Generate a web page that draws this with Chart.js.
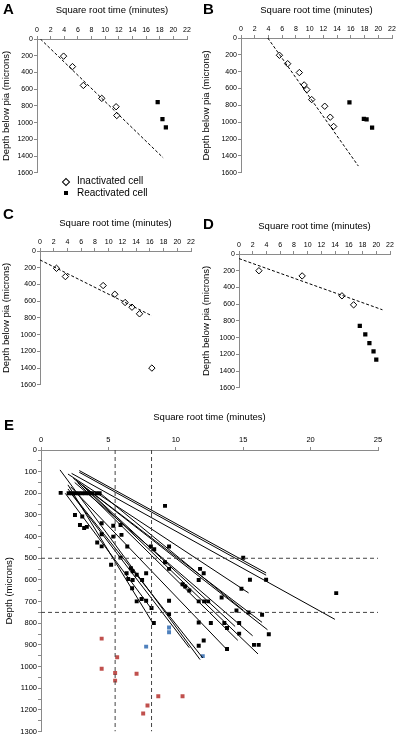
<!DOCTYPE html>
<html>
<head>
<meta charset="utf-8">
<script src="https://cdn.jsdelivr.net/npm/chart.js@4.4.0/dist/chart.umd.min.js"></script>
<style>
body{margin:0;background:#fff;width:400px;height:737px;position:relative;overflow:hidden;font-family:"Liberation Sans",Arial,sans-serif;}
canvas{position:absolute;}
.letter{position:absolute;font-weight:bold;font-size:15px;line-height:15px;}
.legtxt{position:absolute;left:77px;font-size:10px;line-height:12px;}
.dia{position:absolute;width:4px;height:4px;border:1px solid #000;background:#fff;transform:rotate(45deg);}
.sq{position:absolute;width:4px;height:4px;background:#000;}
</style>
</head>
<body>
<canvas id="chartA" style="left:0;top:0" width="200" height="178"></canvas>
<canvas id="chartB" style="left:200px;top:0" width="200" height="178"></canvas>
<canvas id="chartC" style="left:0;top:213px" width="200" height="177"></canvas>
<canvas id="chartD" style="left:200px;top:216px" width="200" height="177"></canvas>
<canvas id="chartE" style="left:0;top:405px" width="400" height="332"></canvas>

<div class="letter" style="left:3px;top:1px">A</div>
<div class="letter" style="left:203px;top:1px">B</div>
<div class="letter" style="left:3px;top:206px">C</div>
<div class="letter" style="left:203px;top:216px">D</div>
<div class="letter" style="left:4px;top:417px">E</div>

<div class="dia" style="left:63px;top:179px"></div>
<div class="legtxt" style="top:175px">Inactivated cell</div>
<div class="sq" style="left:64px;top:191px"></div>
<div class="legtxt" style="top:187px">Reactivated cell</div>

<script>
// panel A
let aInactive = [[3.9,205],[5.2,330],[6.8,555],[9.5,710],[11.6,810],[11.7,915]];
let aReactive = [[17.7,755],[18.4,958],[18.9,1058]];
let aFit = [[0.5,0],[18.5,1420]];
// panel B
let bInactive = [[5.6,205],[6.8,305],[8.5,410],[9.2,557],[9.6,613],[10.3,731],[12.2,810],[13.0,940],[13.5,1050]];
let bReactive = [[15.8,765],[17.9,960],[18.3,965],[19.1,1065]];
let bFit = [[3.9,0],[17.1,1520]];
// panel C
let cInactive = [[2.4,207],[3.7,306],[9.2,413],[10.9,517],[12.4,616],[13.4,672],[14.5,751],[16.3,1400]];
let cFit = [[0,107],[16.3,775]];
// panel D
let dInactive = [[2.9,200],[9.2,262],[15.0,500],[16.7,608]];
let dReactive = [[17.6,860],[18.4,962],[19.0,1065],[19.6,1164],[20.0,1263]];
let dFit = [[0,55],[20.9,667]];

// panel E
let eBlack = [
  [1.46,198],[2.05,200],[2.3,200],[2.55,200],[2.8,200],[3.05,200],[3.3,200],[3.55,200],[3.8,200],[4.1,200],[4.35,200],
  [2.52,300],[3.06,307],[2.89,346],[3.2,360],[3.4,355],[4.5,338],[4.5,389],[4.17,427],[4.5,445],
  [5.36,350],[5.36,400],[5.9,346],[5.97,392],[6.4,446],[9.2,258],[8.15,446],[8.4,458],[9.5,446],[5.9,497],
  [5.2,530],[6.35,569],[6.67,546],[6.8,560],[6.47,596],[6.8,600],[7.1,576],[7.8,569],[7.5,600],[6.76,638],
  [7.1,699],[7.46,688],[7.8,696],[8.2,730],[8.37,799],[9.2,518],[9.5,549],[9.5,696],[9.5,757],
  [10.5,620],[10.7,630],[11.0,649],[11.7,600],[11.7,699],[11.7,797],[11.7,904],
  [11.8,549],[12.07,569],[12.1,699],[12.4,699],[12.6,799],[12.07,880],[13.4,681],[13.8,919],[13.6,799],[13.8,822],
  [14.7,799],[14.7,848],[14.5,741],[14.87,641],[15.4,750],[15.0,498],[15.5,599],[16.7,599],[16.4,761],
  [21.9,661],[16.9,851],[15.8,900],[16.15,900]
];
let eBlue = [[7.8,908],[9.5,820],[9.5,842],[12.0,952]];
let eRed = [[4.5,871],[5.65,957],[4.5,1010],[5.5,1030],[5.5,1065],[7.09,1033],[8.7,1137],[10.5,1137],[7.9,1180],[7.58,1217]];
let eLines = [
  [2.84,95,16.7,568],[2.84,103,16.7,578],[2.27,108,21.8,782],[2.0,111,15.4,660],
  [2.4,131,16.4,796],[2.6,140,16.8,830],[2.5,150,15.7,858],[3.0,160,16.1,942],
  [2.2,170,13.75,919],[2.7,150,14.6,879],[3.3,175,14.4,815],[1.41,92,11.8,968],
  [2.0,180,12.0,960],[2.1,190,11.0,913],[2.0,161,8.3,800],[1.8,200,8.2,734],[4.3,195,15.0,740]
];
let eVert = [5.5,8.2];
let eHorz = [500,750];

let fontFam = '"Liberation Sans", Arial, sans-serif';
let axisCol = '#8a8a8a';

function pts(arr){
  return arr.map(p => ({x:p[0], y:p[1]}));
}

function diamonds(arr){
  return {data:pts(arr), pointStyle:'rectRot', pointRadius:3.2, backgroundColor:'#fff', borderColor:'#000', borderWidth:1};
}
function squares(arr, col, r){
  return {data:pts(arr), pointStyle:'rect', pointRadius:r, backgroundColor:col, borderColor:col, borderWidth:0};
}
function line(arr, dash, w){
  return {data:pts(arr), showLine:true, pointRadius:0, borderColor:'#000', borderWidth:w, borderDash:dash};
}

function panel(id, cfg, datasets){
  return new Chart(document.getElementById(id), {
    type: 'scatter',
    data: {datasets: datasets},
    options: {
      responsive: false,
      animation: false,
      events: [],
      layout: {padding: {left:0, top:0, right:cfg.padR, bottom:5}},
      plugins: {legend:{display:false}, tooltip:{enabled:false}},
      scales: {
        x: {
          type: 'linear', position: 'top', min: 0, max: cfg.xMax,
          afterFit: function(s){ s.height = cfg.xH; },
          border: {color: axisCol},
          grid: {drawOnChartArea:false, tickLength:3, color:axisCol},
          ticks: {stepSize:cfg.xStep, autoSkip:false, maxRotation:0, padding:cfg.xPad, color:'#000', font:{size:cfg.tick, family:fontFam}},
          title: {display:true, text:'Square root time (minutes)', color:'#000', padding:{top:cfg.tPad, bottom:0}, font:{size:9.5, family:fontFam}}
        },
        y: {
          type: 'linear', reverse: true, min: 0, max: cfg.yMax,
          afterFit: function(s){ s.width = cfg.yW; },
          border: {color: axisCol},
          grid: {drawOnChartArea:false, tickLength:3, color:axisCol},
          ticks: {stepSize:cfg.yStep, autoSkip:false, padding:1, color:'#000', font:{size:cfg.tick, family:fontFam},
            callback: function(v){ return v % cfg.yLab === 0 ? v : ''; }},
          title: {display:true, text:cfg.yTitle, color:'#000', padding:{top:cfg.yTPad, bottom:0}, font:{size:9.5, family:fontFam}}
        }
      }
    }
  });
}

let small = {xMax:22, xStep:2, yMax:1600, yStep:200, yLab:200, tick:7, xPad:2, tPad:5, yTPad:1, yTitle:'Depth below pia (microns)'};

panel('chartA', Object.assign({}, small, {padR:13, xH:39, yW:37}),
  [line(aFit,[3,2],1), diamonds(aInactive), squares(aReactive,'#000',3)]);
panel('chartB', Object.assign({}, small, {padR:8, xH:38, yW:41}),
  [line(bFit,[3,2],1), diamonds(bInactive), squares(bReactive,'#000',3)]);
panel('chartC', Object.assign({}, small, {padR:9, xH:38, yW:40}),
  [line(cFit,[3,2],1), diamonds(cInactive)]);
panel('chartD', Object.assign({}, small, {padR:10, xH:38, yW:39}),
  [line(dFit,[3,2],1), diamonds(dInactive), squares(dReactive,'#000',3)]);

let eSets = [];
for (let i = 0; i < eVert.length; i++) {
  eSets.push(Object.assign(line([[eVert[i],0],[eVert[i],1300]],[4,3],1), {borderColor:'#444'}));
}
for (let i = 0; i < eHorz.length; i++) {
  eSets.push(Object.assign(line([[0,eHorz[i]],[25,eHorz[i]]],[4,3],1), {borderColor:'#444'}));
}
for (let i = 0; i < eLines.length; i++) {
  let l = eLines[i];
  eSets.push(line([[l[0],l[1]],[l[2],l[3]]],[],1));
}
eSets.push(squares(eBlack,'#000',2.8));
eSets.push(squares(eBlue,'#4f81bd',2.8));
eSets.push(squares(eRed,'#c0504d',2.8));

panel('chartE', {xMax:25, xStep:5, yMax:1300, yStep:50, yLab:100, tick:7.5, xPad:3, tPad:7, yTPad:4,
  yTitle:'Depth (microns)', padR:22, xH:45, yW:41}, eSets);
</script>
</body>
</html>
